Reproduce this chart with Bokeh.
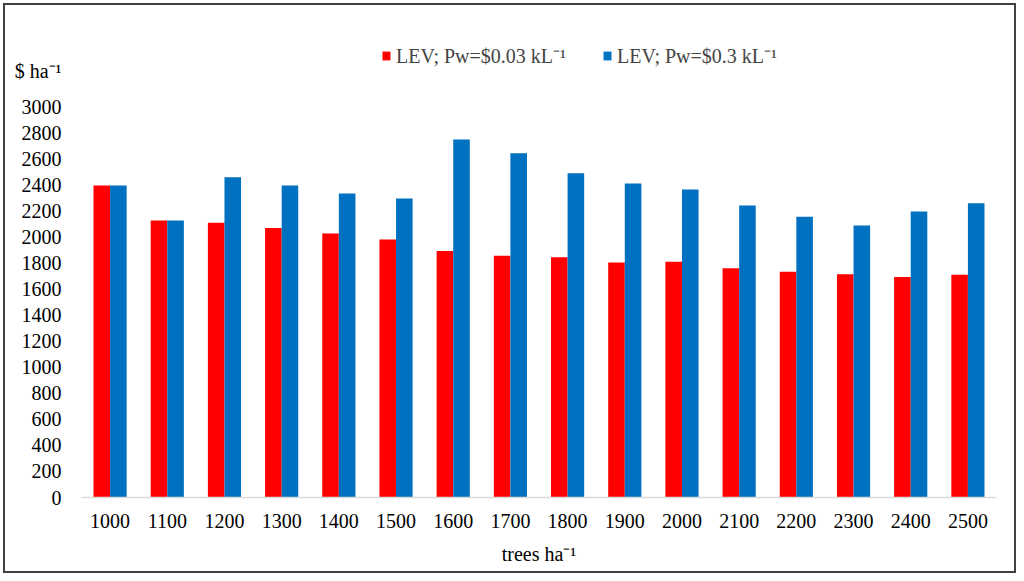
from bokeh.plotting import figure
from bokeh.models import ColumnDataSource, FactorRange, FixedTicker, Legend, LegendItem
from bokeh.transform import dodge
from bokeh.embed import file_html
from bokeh.resources import INLINE

# trees per hectare (categories)
trees = ["1000", "1100", "1200", "1300", "1400", "1500", "1600", "1700",
         "1800", "1900", "2000", "2100", "2200", "2300", "2400", "2500"]
# LEV, $/ha
lev_003 = [2400, 2130, 2113, 2074, 2031, 1985, 1897, 1859,
           1849, 1808, 1813, 1764, 1736, 1718, 1697, 1713]
lev_03 = [2400, 2130, 2464, 2400, 2338, 2300, 2754, 2649,
          2495, 2415, 2369, 2246, 2159, 2092, 2200, 2264]
y_ticks = list(range(0, 3001, 200))
y_title = "$ ha\u207b\u00b9"

RED = "#FF0000"
BLUE = "#0070C0"
FONT = "Liberation Serif"

src = ColumnDataSource(data=dict(trees=trees, lev_003=lev_003, lev_03=lev_03))

# plot area reaches up to the legend; ticks stop at 3000
p = figure(width=1013, height=570, output_backend="svg", toolbar_location=None,
           x_range=FactorRange(factors=trees, range_padding=0), y_range=(0, 3592.3),
           min_border_left=76, min_border_right=22, min_border_top=25, min_border_bottom=78)
p.styles = {"border": "2px solid #404040", "margin": "3px 0 0 3px"}
p.outline_line_color = None
p.xgrid.grid_line_color = None
p.ygrid.grid_line_color = None

r1 = p.vbar(x=dodge("trees", -0.145, range=p.x_range), top="lev_003", width=0.29,
            source=src, color=RED, line_color=None)
r2 = p.vbar(x=dodge("trees", 0.145, range=p.x_range), top="lev_03", width=0.29,
            source=src, color=BLUE, line_color=None)

# y title sits in the tick column, one slot above the top tick
title_at = 3281
p.yaxis.ticker = FixedTicker(ticks=y_ticks + [title_at])
p.yaxis.major_label_overrides = {title_at: y_title}
p.yaxis.axis_line_color = None
p.yaxis.major_tick_line_color = None
p.yaxis.minor_tick_line_color = None
p.yaxis.major_tick_out = 0
p.yaxis.major_label_standoff = 20

p.xaxis.axis_line_color = "#D9D9D9"
p.xaxis.axis_line_width = 1.5
p.xaxis.major_tick_line_color = None
p.xaxis.major_tick_out = 0
p.xaxis.major_label_standoff = 16
p.xaxis.axis_label = "trees ha\u207b\u00b9"
p.xaxis.axis_label_text_font = FONT
p.xaxis.axis_label_text_font_size = "20px"
p.xaxis.axis_label_text_font_style = "normal"
p.xaxis.axis_label_text_color = "black"
p.xaxis.axis_label_standoff = 12

for ax in (p.xaxis, p.yaxis):
    ax.major_label_text_font = FONT
    ax.major_label_text_font_size = "20px"
    ax.major_label_text_color = "black"

legend = Legend(items=[LegendItem(label="LEV; Pw=$0.03 kL\u207b\u00b9", renderers=[r1]),
                       LegendItem(label="LEV; Pw=$0.3 kL\u207b\u00b9", renderers=[r2])],
                orientation="horizontal", location=(300, 428), padding=0, margin=0,
                spacing=36, glyph_width=10, glyph_height=11, label_standoff=5,
                label_text_font=FONT, label_text_font_size="20px",
                border_line_color=None, background_fill_alpha=0)
p.add_layout(legend)

open("out.html", "w").write(file_html(p, INLINE))
